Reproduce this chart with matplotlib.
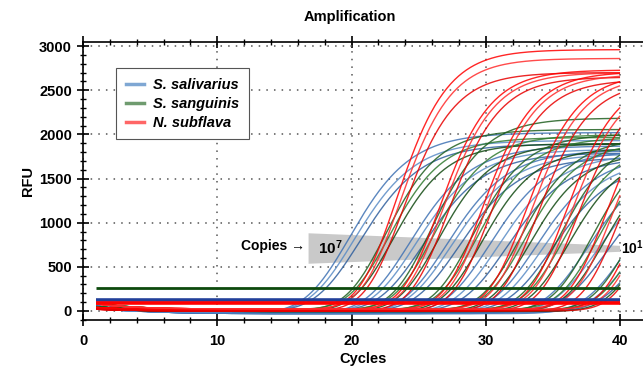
import numpy as np
import matplotlib
matplotlib.use("Agg")
import matplotlib.pyplot as plt
from matplotlib.ticker import MultipleLocator

plt.rcParams['font.family'] = ['Liberation Sans', 'DejaVu Sans']
plt.rcParams['font.weight'] = 'bold'
plt.rcParams['mathtext.fontset'] = 'custom'
plt.rcParams['mathtext.bf'] = 'Liberation Sans:bold'
plt.rcParams['mathtext.rm'] = 'Liberation Sans:bold'

# ---------------- data ----------------
species = ["S. salivarius", "S. sanguinis", "N. subflava"]

# cycle at which each curve crosses ~270 RFU, 7 dilutions (10^7 .. 10^1) x 3 replicates
blue_ct = [17.2, 17.6, 18.1, 21.8, 22.3, 22.9, 24.6, 25.0, 25.6, 27.8, 28.5, 29.2,
           31.3, 31.9, 32.6, 35.2, 36.0, 36.8, 38.2, 38.9, 39.6]
green_ct = [20.2, 20.5, 20.8, 23.5, 23.8, 24.2, 26.7, 27.1, 27.5, 30.3, 30.7, 31.1,
            33.2, 33.6, 34.0, 35.6, 36.1, 36.6, 38.6, 39.2, 39.8]
red_ct = [20.6, 20.9, 21.2, 23.9, 24.2, 24.6, 27.1, 27.4, 27.8, 30.4, 30.8, 31.3,
          33.4, 33.8, 34.3, 36.4, 36.9, 37.5, 39.0, 39.5, 40.0]

# plateau RFU of each curve
blue_plateau = [2050, 1950, 1900, 1900, 1850, 1800, 1850, 1800, 1750, 1850, 1800, 1750,
                1800, 1750, 1700, 1800, 1700, 1650, 1750, 1700, 1650]
green_plateau = [2050, 1950, 1900, 2180, 1980, 1900, 2000, 1950, 1850, 1950, 1900, 1800,
                 2000, 1900, 1800, 1950, 1900, 1850, 1900, 1850, 1800]
red_plateau = [2950, 2840, 2700, 2720, 2680, 2650, 2700, 2660, 2620, 2680, 2640, 2600,
               2650, 2600, 2560, 2600, 2550, 2500, 2600, 2550, 2500]

# baseline RFU at cycle 1 and late baseline level, per replicate
blue_base = [(60, -30), (30, -20), (90, -10)]
green_base = [(50, 5), (90, 15), (30, -5)]
red_base = [(40, 10), (80, 20), (20, 0)]

# curve steepness (cycles) and asymmetry per species
shape = {"S. salivarius": (2.5, 3.0), "S. sanguinis": (2.2, 3.0), "N. subflava": (2.1, 3.0)}

thresholds = [265, 120, 95]      # green, blue, red threshold lines (RFU)
first_cycle, last_cycle = 1, 40

# ---------------- styles ----------------
curve_colors = {"S. salivarius": ["#3f72b4", "#5a8cc6", "#2f5f9e"],
                "S. sanguinis": ["#1f5f1f", "#2f7a2f", "#124a12"],
                "N. subflava": ["#ff0000", "#ff2b2b", "#e80000"]}
legend_colors = {"S. salivarius": "#7fa7d3", "S. sanguinis": "#6f9b6f", "N. subflava": "#ff6666"}
thr_colors = ["#0d4a0d", "#22409a", "#ff0000"]
thr_widths = [2.0, 2.6, 2.6]

fig = plt.figure(figsize=(6.43, 3.70), dpi=100)
W, H = 643.0, 370.0
ax = fig.add_axes([83 / W, 50 / H, (643 - 83) / W, (320 - 42) / H])

cyc = np.linspace(first_cycle, last_cycle, 400)


def curve(ct, P, k, s, b0, b1):
    f = 270.0 / P
    x270 = -np.log(f ** (-1.0 / s) - 1.0)
    m = ct - k * x270
    sig = P * (1.0 + np.exp(-(cyc - m) / k)) ** (-s)
    base = b1 + (b0 - b1) * np.exp(-(cyc - first_cycle) / 3.0)
    return sig + base


data = {"S. salivarius": (blue_ct, blue_plateau, blue_base),
        "S. sanguinis": (green_ct, green_plateau, green_base),
        "N. subflava": (red_ct, red_plateau, red_base)}

for sp in species:
    cts, plats, bases = data[sp]
    k, s = shape[sp]
    for i, (ct, P) in enumerate(zip(cts, plats)):
        r = i % 3
        b0, b1 = bases[r]
        ax.plot(cyc, curve(ct, P, k, s, b0, b1), color=curve_colors[sp][r],
                lw=1.0, alpha=0.85, zorder=3, solid_capstyle='butt')

# threshold lines
for yv, c, w in zip(thresholds, thr_colors, thr_widths):
    ax.plot([first_cycle, last_cycle], [yv, yv], color=c, lw=w, zorder=5,
            solid_capstyle='butt')

# grey dilution wedge
ax.fill([16.8, 16.8, 40.0, 40.0], [880, 535, 670, 738], color="#c9c9c9",
        zorder=1, lw=0)
ax.text(16.5, 735, "Copies \u2192", ha='right', va='center', fontsize=10,
        fontweight='bold', zorder=6)
ax.text(17.5, 715, r"$\mathbf{10^{7}}$", ha='left', va='center', fontsize=11, zorder=6)
ax.text(40.1, 715, r"$\mathbf{10^{1}}$", ha='left', va='center', fontsize=10,
        zorder=6, clip_on=False)

# legend
handles = [plt.Line2D([], [], color=legend_colors[sp], lw=2.5) for sp in species]
leg = ax.legend(handles, species, loc='upper left', bbox_to_anchor=(0.059, 0.906),
                borderaxespad=0, frameon=True, fancybox=False, framealpha=1,
                edgecolor='#555555', handlelength=1.3, handletextpad=0.6,
                labelspacing=0.35, borderpad=0.65,
                prop={'size': 10.5, 'weight': 'bold', 'style': 'italic'})
leg.get_frame().set_linewidth(0.8)
leg.set_zorder(7)

# axes styling
ax.set_xlim(0, 41.71)
ax.set_ylim(-102, 3046)
ax.xaxis.set_major_locator(MultipleLocator(10))
ax.xaxis.set_minor_locator(MultipleLocator(2))
ax.yaxis.set_major_locator(MultipleLocator(500))
ax.yaxis.set_minor_locator(MultipleLocator(100))
ax.grid(True, which='major', color='#555555', linestyle=(0, (1, 4)), lw=1.1, zorder=0)
ax.set_axisbelow(True)
ax.spines['right'].set_visible(False)
for sp_ in ['left', 'bottom', 'top']:
    ax.spines[sp_].set_linewidth(1.2)
ax.tick_params(axis='both', which='major', direction='inout', length=8, width=1.2,
               labelsize=10.5, top=True)
ax.tick_params(axis='both', which='minor', direction='inout', length=5, width=1.0,
               top=True)
ax.tick_params(axis='y', which='major', pad=4)
ax.tick_params(axis='x', which='major', pad=6)
for lab in ax.get_xticklabels() + ax.get_yticklabels():
    lab.set_fontweight('bold')

ax.set_xlabel("Cycles", fontsize=10.5, fontweight='bold', labelpad=3)
ax.set_ylabel("RFU", fontsize=10.5, fontweight='bold', labelpad=3)
fig.text(350 / W, 1 - 17 / H, "Amplification", ha='center', va='center',
         fontsize=10.5, fontweight='bold')

fig.savefig("out.png", dpi=100)
